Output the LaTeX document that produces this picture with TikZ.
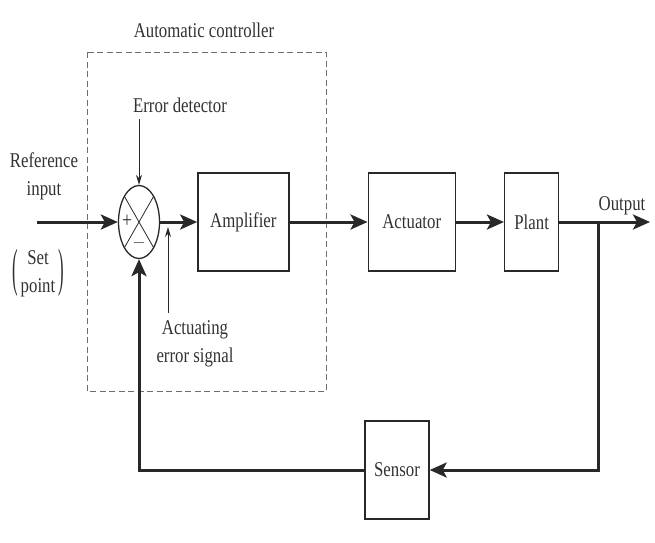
\documentclass[tikz,border=0pt]{standalone}
\usepackage{fontspec}
\setmainfont{Liberation Serif}[FakeStretch=0.8]
\usepackage{xcolor}
\usepackage{graphicx}
\usepackage{tikz}
\usetikzlibrary{shapes.geometric, arrows.meta, positioning, calc}
\definecolor{linedark}{RGB}{40, 40, 40}
\definecolor{textdark}{RGB}{50, 50, 50}
\definecolor{dashgray}{RGB}{110, 110, 110}
\newcommand{\tallparen}[1]{\raisebox{-7pt}{\scalebox{1}[2.5]{#1}}}
\tikzset{
    block/.style={rectangle, draw=linedark, line width=1.4pt, minimum height=98pt, text centered, inner sep=0pt, text=textdark},
    sumjunc/.style={ellipse, draw=linedark, line width=1.3pt, minimum width=41pt, minimum height=73pt, inner sep=0pt},
    signal/.style={line width=3pt, draw=linedark, -{Stealth[length=17pt, width=15pt, inset=4pt]}},
    pointer/.style={line width=0.9pt, draw=linedark, -{Stealth[length=10pt, width=6pt]}},
    txt/.style={text=textdark, align=center, inner sep=0pt},
    ctrlbox/.style={draw=dashgray, line width=0.8pt, dash pattern=on 6pt off 3.5pt}
}

\begin{document}
\begin{tikzpicture}[x=1pt, y=-1pt, font=\fontsize{21}{28}\selectfont]
    \useasboundingbox (0,0) rectangle (655,542);

    % controller boundary
    \draw [ctrlbox] (87,52) rectangle (326,391);
    \node (ctrllbl) [txt, anchor=base] at (204,37) {Automatic controller};

    % forward path
    \node (sum) [sumjunc] at (139,222) {};
    \node (amp) [block, minimum width=91pt, right=37pt of sum] {Amplifier};
    \node (act) [block, minimum width=87pt, right=78pt of amp] {Actuator};
    \node (plant) [block, minimum width=54pt, right=48pt of act] {Plant};
    \node (sensor) [block, minimum width=64pt] at (397,470) {Sensor};

    \draw [linedark, line width=0.8pt] (sum.north west) -- (sum.south east);
    \draw [linedark, line width=0.8pt] (sum.north east) -- (sum.south west);
    \node (plus) [txt, font=\fontsize{22}{22}\selectfont] at (127,221) {+};
    \node (minus) [txt, font=\fontsize{18}{18}\selectfont] at (139,243) {$-$};

    \coordinate (ref) at (37,222);
    \coordinate (branch) at (598,222);
    \coordinate (out) at (650,222);

    \draw [signal] (ref) -- (sum.west);
    \draw [signal] (sum.east) -- (amp.west);
    \draw [signal] (amp.east) -- (act.west);
    \draw [signal] (act.east) -- (plant.west);
    \draw [signal] (plant.east) -- (out);

    % feedback path
    \draw [signal] (branch) |- (sensor.east);
    \draw [signal] (sensor.west) -| (sum.south);

    % labels
    \node (reflbl) [txt] at (44,176) {Reference\\input};
    \node (setlbl) [txt] at (38,273) {\tallparen{(}\hspace{3pt}\begin{tabular}{@{}c@{}}Set\\point\end{tabular}\hspace{3pt}\tallparen{)}};
    \node (outlbl) [txt, anchor=base] at (622,210) {Output};

    \node (errlbl) [txt, anchor=base] at (180,112) {Error detector};
    \coordinate (errtail) at (139,119);
    \draw [pointer] (errtail) -- (sum.north);

    \node (actlbl) [txt] at (195,344) {Actuating\\error signal};
    \coordinate (acttail) at (168,313);
    \coordinate (acttip) at (168,227);
    \draw [pointer] (acttail) -- (acttip);
\end{tikzpicture}
\end{document}
